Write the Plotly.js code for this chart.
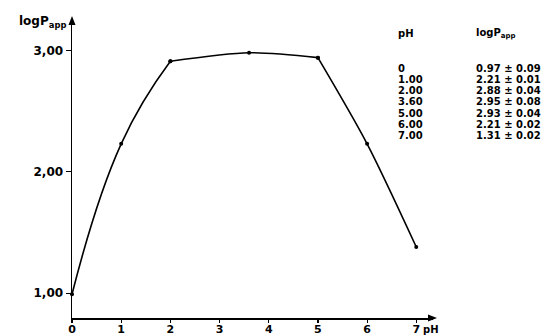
<!DOCTYPE html>
<html>
<head>
<meta charset="utf-8">
<script src="https://cdn.plot.ly/plotly-3.0.1.min.js"></script>
<style>html,body{margin:0;padding:0;background:#fff;}#chart{width:555px;height:335px;}</style>
</head>
<body>
<div id="chart"></div>
<script>
// Plotted points
const phValues = [0, 1, 2, 3.6, 5, 6, 7];
const logPValues = [0.99, 2.23, 2.91, 2.98, 2.94, 2.23, 1.38];

// Inset table (text in the figure)
const tablePh = ['0', '1.00', '2.00', '3.60', '5.00', '6.00', '7.00'];
const tableLogP = ['0.97 ± 0.09', '2.21 ± 0.01', '2.88 ± 0.04', '2.95 ± 0.08', '2.93 ± 0.04', '2.21 ± 0.02', '1.31 ± 0.02'];

const xTicks = [0, 1, 2, 3, 4, 5, 6, 7];
const yTicks = [1, 2, 3];

const FONT = 'DejaVu Sans, Liberation Sans, sans-serif';
const L = 72, R = 122, T = 20, B = 17;
const W = 555, H = 335;
const pw = W - L - R, ph = H - T - B;
const px = v => (v - L) / pw;
const py = v => (H - B - v) / ph;

const annotations = [];
annotations.push({xref: 'paper', yref: 'paper', x: px(68), y: py(22), xanchor: 'right', yanchor: 'middle',
  text: 'logP<sub>app</sub>', showarrow: false, font: {family: FONT, size: 12, color: '#000', weight: 'bold'}});
annotations.push({xref: 'paper', yref: 'paper', x: px(421), y: py(329), xanchor: 'left', yanchor: 'middle',
  text: 'pH', showarrow: false, font: {family: FONT, size: 10, color: '#000', weight: 'bold'}});
annotations.push({xref: 'paper', yref: 'paper', x: px(396), y: py(33), xanchor: 'left', yanchor: 'middle',
  text: 'pH', showarrow: false, font: {family: FONT, size: 10, color: '#000', weight: 'bold'}});
annotations.push({xref: 'paper', yref: 'paper', x: px(474), y: py(33), xanchor: 'left', yanchor: 'middle',
  text: 'logP<sub>app</sub>', showarrow: false, font: {family: FONT, size: 10, color: '#000', weight: 'bold'}});
tablePh.forEach((t, i) => {
  const yy = 68 + i * 11.3;
  annotations.push({xref: 'paper', yref: 'paper', x: px(396), y: py(yy), xanchor: 'left', yanchor: 'middle',
    text: t, showarrow: false, font: {family: FONT, size: 10, color: '#000', weight: 'bold'}});
  annotations.push({xref: 'paper', yref: 'paper', x: px(474), y: py(yy), xanchor: 'left', yanchor: 'middle',
    text: tableLogP[i], showarrow: false, font: {family: FONT, size: 10, color: '#000', weight: 'bold'}});
});

// arrowheads on the axis ends
const tri = pts => 'M ' + pts.map(p => px(p[0]) + ',' + py(p[1])).join(' L ') + ' Z';
const shapes = [
  {type: 'path', xref: 'paper', yref: 'paper', path: tri([[72, 16], [68.5, 25], [75.5, 25]]),
   fillcolor: '#000', line: {width: 0}},
  {type: 'path', xref: 'paper', yref: 'paper', path: tri([[437, 318], [428, 314.5], [428, 321.5]]),
   fillcolor: '#000', line: {width: 0}}
];

// curve drawn in three smooth pieces, as in the figure (kinks at pH 2 and 5)
const pieces = [[0, 3], [2, 5], [4, 7]];
const smooth = [1.3, 0.8, 0.8];
const traces = pieces.map(([a, b], k) => ({
  x: phValues.slice(a, b), y: logPValues.slice(a, b), mode: 'lines+markers', type: 'scatter',
  line: {color: '#000', width: 1.6, shape: 'spline', smoothing: smooth[k]},
  marker: {color: '#000', size: 4},
  hoverinfo: 'skip', cliponaxis: false
}));

const layout = {
  width: W, height: H,
  margin: {l: L, r: R, t: T, b: B, pad: 0},
  paper_bgcolor: '#fff', plot_bgcolor: '#fff',
  separators: ',.',
  showlegend: false,
  xaxis: {range: [0, 7.34], tickvals: xTicks, ticks: 'outside', ticklen: 3, tickwidth: 1.2, tickcolor: '#000',
    showline: true, linecolor: '#000', linewidth: 1.5, showgrid: false, zeroline: false, ticklabelstandoff: -3,
    tickfont: {family: FONT, size: 11, color: '#000', weight: 'bold'}, automargin: false},
  yaxis: {range: [0.795, 3.25], tickvals: yTicks, tickformat: '.2f', ticks: 'outside', ticklen: 5, tickwidth: 1.2, tickcolor: '#000',
    showline: true, linecolor: '#000', linewidth: 1.5, showgrid: false, zeroline: false,
    tickfont: {family: FONT, size: 12, color: '#000', weight: 'bold'}, automargin: false},
  annotations: annotations,
  shapes: shapes
};

Plotly.newPlot('chart', traces, layout, {displayModeBar: false, staticPlot: true});
</script>
</body>
</html>
